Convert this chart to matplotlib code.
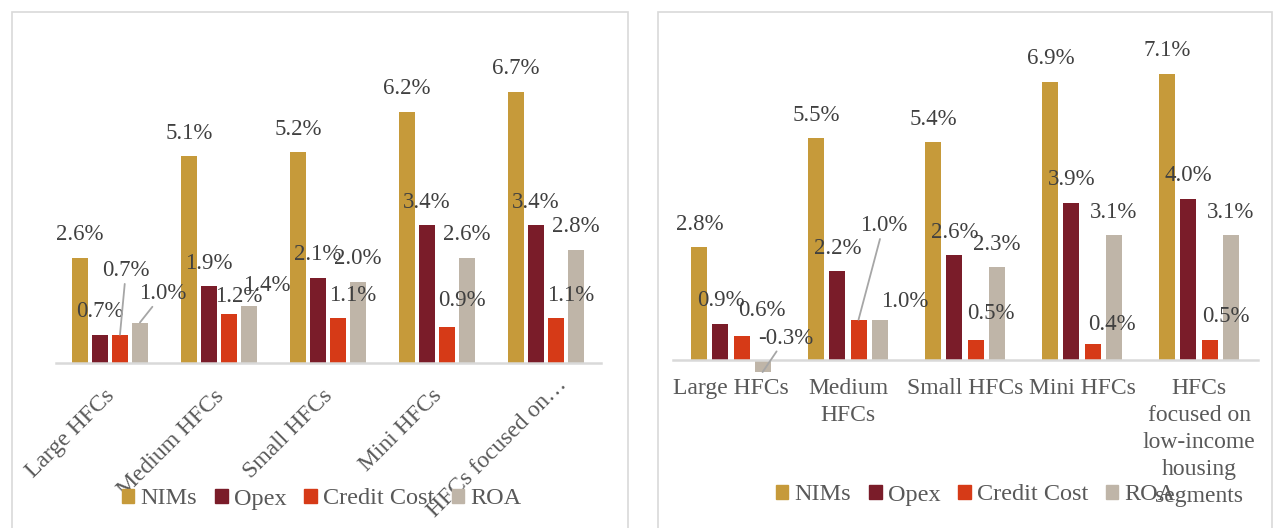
import numpy as np
import matplotlib.pyplot as plt
import matplotlib.transforms as mtransforms
from matplotlib.patches import Patch, Rectangle

plt.rcParams['font.family'] = ['Liberation Serif', 'DejaVu Serif']

# --------------------------
# Data
# --------------------------
series = ['NIMs', 'Opex', 'Credit Cost', 'ROA']
colors = ['#C69A3A', '#7A1C29', '#D63A17', '#BFB5A8']

left_labels = ['Large HFCs', 'Medium HFCs', 'Small HFCs', 'Mini HFCs',
               'HFCs focused on\u2026']
left_nims = [2.6, 5.1, 5.2, 6.2, 6.7]
left_opex = [0.7, 1.9, 2.1, 3.4, 3.4]
left_credit = [0.7, 1.2, 1.1, 0.9, 1.1]
left_roa = [1.0, 1.4, 2.0, 2.6, 2.8]

right_labels = ['Large HFCs', 'Medium\nHFCs', 'Small HFCs', 'Mini HFCs',
                'HFCs\nfocused on\nlow-income\nhousing\nsegments']
right_nims = [2.8, 5.5, 5.4, 6.9, 7.1]
right_opex = [0.9, 2.2, 2.6, 3.9, 4.0]
right_credit = [0.6, 1.0, 0.5, 0.4, 0.5]
right_roa = [-0.3, 1.0, 2.3, 3.1, 3.1]

# label placement tweaks (pixels): (series index, group) -> (dx, dy, leader line)
left_tweaks = {(2, 0): (6, 64, True), (3, 0): (23, 29, True),
               (2, 1): (10, 18, False), (3, 1): (18, 21, False),
               (2, 2): (15, 23, False), (2, 3): (15, 26, False),
               (2, 4): (15, 23, False)}
right_tweaks = {(2, 0): (20, 25, False), (3, 0): (23, 34, True),
                (2, 1): (25, 94, True), (3, 1): (25, 18, False),
                (2, 2): (15, 26, False), (2, 3): (19, 19, False),
                (2, 4): (16, 23, False)}

W, H = 1274, 528
fig = plt.figure(figsize=(W / 100, H / 100), dpi=100)

# panel borders
for x0, x1 in [(12, 628), (658, 1272)]:
    fig.patches.append(Rectangle((x0 / W, -0.1), (x1 - x0) / W, 1.1 - 12 / H,
                                 transform=fig.transFigure, fill=False,
                                 edgecolor='#D9D9D9', lw=1.2))


def draw_panel(ax, values, width, step, tweaks):
    x = np.arange(len(values[0]))
    for k, (vals, col) in enumerate(zip(values, colors)):
        pos = x + (k - 1.5) * step
        ax.bar(pos, vals, width, color=col, zorder=2)
        for g, v in enumerate(vals):
            dx, dy, leader = tweaks.get((k, g), (0, 23, False))
            kw = {}
            if leader:
                kw['arrowprops'] = dict(arrowstyle='-', color='#A6A6A6', lw=1.3,
                                        shrinkA=0, shrinkB=0)
            ax.annotate(f'{v:.1f}%', (pos[g], v), xytext=(dx, dy),
                        textcoords='offset pixels', ha='center', va='center',
                        fontsize=16.5, color='#404040', zorder=3, **kw)
    ax.set_xlim(-0.5, len(x) - 0.5)
    for s in ['top', 'left', 'right']:
        ax.spines[s].set_visible(False)
    ax.spines['bottom'].set_position(('data', 0))
    ax.spines['bottom'].set_color('#D9D9D9')
    ax.spines['bottom'].set_linewidth(1.8)
    ax.set_yticks([])
    ax.set_xticks(x)
    ax.tick_params(axis='x', length=0, labelsize=17, labelcolor='#595959')
    ax.patch.set_alpha(0)


# left panel
ax1 = fig.add_axes([55.5 / W, (H - 363) / H, 545 / W, 8.5 * 40.5 / H])
draw_panel(ax1, [left_nims, left_opex, left_credit, left_roa], 0.147, 0.183, left_tweaks)
ax1.set_ylim(0, 8.5)
ax1.set_xticklabels(left_labels, rotation=45, ha='right', rotation_mode='anchor')
ax1.tick_params(axis='x', pad=14)
for i, lab in enumerate(ax1.get_xticklabels()):
    # last (truncated) label sits a bit further up-right in the original
    dx, dy = (10, 8) if i == len(left_labels) - 1 else (-6, -3)
    shift = mtransforms.ScaledTranslation(dx / 100, dy / 100, fig.dpi_scale_trans)
    lab.set_transform(lab.get_transform() + shift)

# right panel
ax2 = fig.add_axes([672.5 / W, (H - 360 - 0.6 * 40.3) / H, 585 / W, 8.8 * 40.3 / H])
draw_panel(ax2, [right_nims, right_opex, right_credit, right_roa], 0.137, 0.18, right_tweaks)
ax2.set_ylim(-0.6, 8.2)
ax2.set_xticklabels(right_labels, linespacing=1.38, va='top')
ax2.tick_params(axis='x', pad=13)

handles = [Patch(color=c) for c in colors]
for cx, cy in [(322 / W, (H - 499) / H), (976 / W, (H - 495) / H)]:
    leg = fig.legend(handles, series, loc='center', bbox_to_anchor=(cx, cy), ncol=4,
                     frameon=False, fontsize=17.5, handlelength=0.5, handleheight=0.5,
                     handletextpad=0.25, columnspacing=0.75, labelcolor='#595959')

plt.savefig('out.png', dpi=100)
